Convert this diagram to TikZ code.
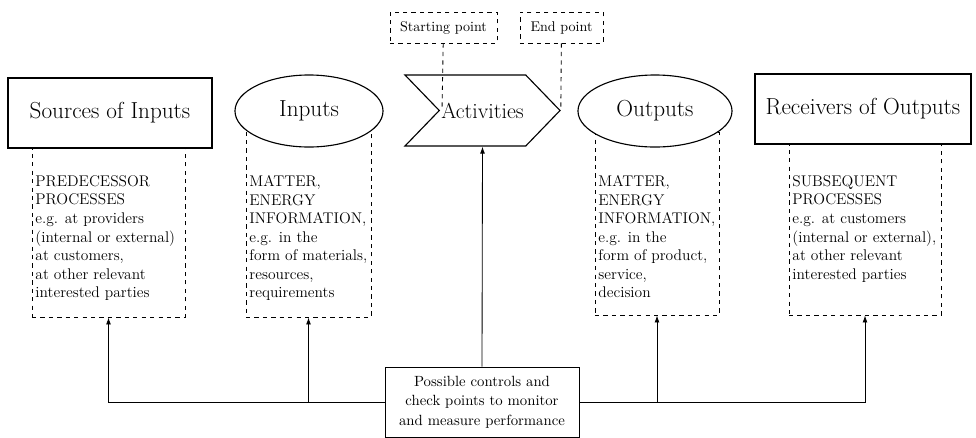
\documentclass[tikz,border=0pt]{standalone}
\usepackage{tikz}
\usetikzlibrary{shapes.geometric,shapes.symbols,arrows.meta}
\tikzstyle{head} = [draw=black, line width=0.8pt, fill=white, inner sep=0pt, font={\fontsize{16.5}{19}\selectfont}]
\tikzstyle{card} = [head, rectangle, minimum height=1.75cm]
\tikzstyle{oval} = [head, ellipse, minimum height=1.8cm]
\tikzstyle{info} = [draw=black, dashed, rectangle, inner sep=0pt]
\tikzstyle{note} = [anchor=north west, align=left, inner sep=0pt, font={\fontsize{11}{13.2}\selectfont}]
\tikzstyle{tag} = [draw=black, dashed, minimum height=0.775cm, inner sep=0pt, font={\fontsize{10}{12}\selectfont}]
\tikzstyle{ctrl} = [-{Latex[length=5pt,width=3.5pt]}]

\begin{document}
\begin{tikzpicture}[x=0.025cm, y=-0.025cm, line width=0.6pt]
  \useasboundingbox (0,0) rectangle (976,437);
  % dashed boxes below the main row
  \node[info, minimum width=3.825cm, minimum height=4.225cm](srcbox) at (108.5,232.5){};
  \node[info, minimum width=3.125cm, minimum height=4.675cm](inpbox) at (308.5,223.5){};
  \node[info, minimum width=3.1cm, minimum height=4.575cm](outbox) at (657,223.5){};
  \node[info, minimum width=3.8cm, minimum height=4.275cm](rcvbox) at (865,229.5){};
  % main row
  \node[card, minimum width=5.1cm](src) at (110,113){Sources of Inputs};
  \node[oval, minimum width=3.7cm](inp) at (309,111){Inputs};
  \node[head, signal, signal from=west, signal to=east, signal pointer angle=92,
        minimum width=3.875cm, minimum height=1.775cm, font={\fontsize{15.5}{18}\selectfont}](act) at (482.5,110.5){Activities};
  \node[oval, minimum width=3.85cm](out) at (655,111){Outputs};
  \node[card, minimum width=5.4cm](rcv) at (863,109){Receivers of Outputs};
  \node[tag, minimum width=2.675cm](start) at (443.5,27.5){Starting point};
  \node[tag, minimum width=2.075cm](endp) at (561.5,27.5){End point};
  \coordinate (notch) at (442,110.5);
  % texts
  \node[note](srctxt) at (35,175){PREDECESSOR\\PROCESSES\\e.g. at providers\\(internal or external)\\at customers,\\at other relevant\\interested parties};
  \node[note](inptxt) at (249,175){MATTER,\\ENERGY\\INFORMATION,\\e.g. in the\\form of materials,\\resources,\\requirements};
  \node[note](outtxt) at (598,175){MATTER,\\ENERGY\\INFORMATION,\\e.g. in the\\form of product,\\service,\\decision};
  \node[note](rcvtxt) at (792,175){SUBSEQUENT\\PROCESSES\\e.g. at customers\\(internal or external),\\at other relevant\\interested parties};
  \node[draw=black, minimum width=4.85cm, minimum height=1.75cm, align=center,
        font={\fontsize{10.5}{14}\selectfont}](ctl) at (482,402){Possible controls and\\check points to monitor\\and measure performance};
  % connectors
  \draw[dashed](start)--(notch);
  \draw[dashed](endp)--(act.east);
  \draw[ctrl](ctl.north)--(act.south);
  \draw[ctrl](ctl.west)-|(srcbox.south);
  \draw[ctrl](ctl.west)-|(inpbox.south);
  \draw[ctrl](ctl.east)-|(outbox.south);
  \draw[ctrl](ctl.east)-|(rcvbox.south);
\end{tikzpicture}
\end{document}
